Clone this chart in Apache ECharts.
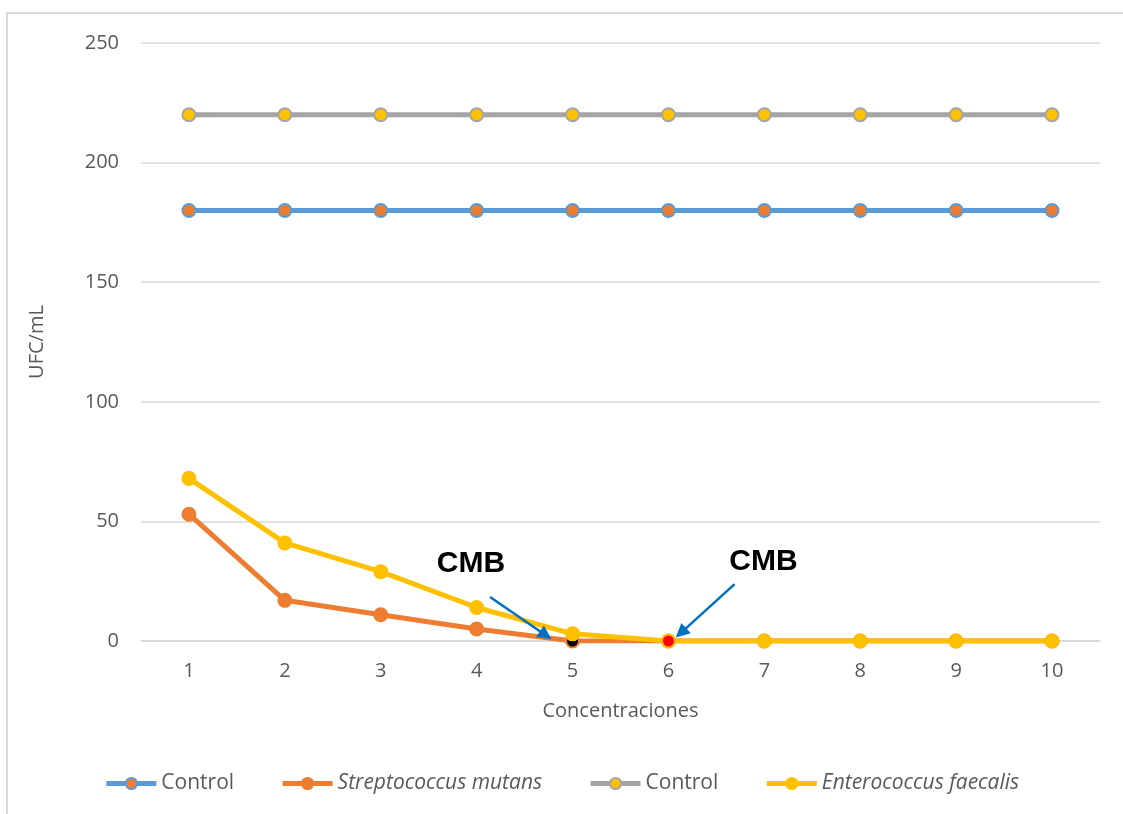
<!DOCTYPE html>
<html>
<head>
<meta charset="utf-8">
<script src="https://cdn.jsdelivr.net/npm/echarts@6/dist/echarts.min.js"></script>
<style>
  html, body { margin: 0; padding: 0; background: #fff; }
  #chart { width: 1123px; height: 814px; }
</style>
</head>
<body>
<div id="chart"></div>
<script>
// datos
const concentraciones = ['1', '2', '3', '4', '5', '6', '7', '8', '9', '10'];
const controlA = [180, 180, 180, 180, 180, 180, 180, 180, 180, 180];
const streptococcus = [53, 17, 11, 5, 0, 0, 0, 0, 0, 0];
const controlB = [220, 220, 220, 220, 220, 220, 220, 220, 220, 220];
const enterococcus = [68, 41, 29, 14, 3, 0, 0, 0, 0, 0];
const yTicks = [0, 50, 100, 150, 200, 250];
const legendNames = ['Control', 'Streptococcus mutans', 'Control', 'Enterococcus faecalis'];

// anotaciones CMB (posición en categoría, valor)
const cmbLabels = [[3.94, 32.2], [6.99, 33.0]];
const cmbArrows = [
    [[4.14, 18.4], [4.72, 2.4]],
    [[6.69, 23.8], [6.13, 3.4]]
];

const blue = '#5B9BD5';
const orange = '#ED7D31';
const gray = '#A5A5A5';
const yellow = '#FFC000';
const txt = '#595959';
const font = 'Open Sans';

const chart = echarts.init(document.getElementById('chart'));

function pts(values, special) {
    return values.map((v, i) => {
        if (special && special.index === i) {
            return {value: v, itemStyle: special.style};
        }
        return v;
    });
}

function lineSeries(key, values, lineColor, fill, border, special) {
    return {
        name: key,
        type: 'line',
        data: pts(values, special),
        symbol: 'circle',
        symbolSize: 13,
        lineStyle: {color: lineColor, width: 5},
        itemStyle: {color: fill, borderColor: border, borderWidth: 2},
        emphasis: {disabled: true},
        z: 3
    };
}

const keys = ['ctrlA', 'strep', 'ctrlB', 'entero'];

const option = {
    backgroundColor: '#fff',
    animation: false,
    graphic: [{
        type: 'rect',
        shape: {x: 7, y: 13, width: 1300, height: 1000},
        style: {fill: 'none', stroke: '#D9D9D9', lineWidth: 2},
        silent: true,
        z: -10
    }],
    grid: {left: 141, right: 23, top: 43, bottom: 173},
    legend: {
        bottom: 15,
        left: 'center',
        itemWidth: 50,
        itemHeight: 14,
        itemGap: 46,
        data: keys,
        lineStyle: {width: 5},
        formatter: function (name) {
            const i = keys.indexOf(name);
            return i === 1 || i === 3 ? '{it|' + legendNames[i] + '}' : legendNames[i];
        },
        textStyle: {
            color: txt, fontFamily: font, fontSize: 21,
            rich: {it: {fontStyle: 'italic', color: txt, fontFamily: font, fontSize: 21}}
        }
    },
    xAxis: [{
        type: 'category',
        data: concentraciones,
        boundaryGap: true,
        name: 'Concentraciones',
        nameLocation: 'middle',
        nameGap: 60,
        nameTextStyle: {color: txt, fontFamily: font, fontSize: 20},
        axisLine: {show: true, lineStyle: {color: '#D9D9D9', width: 1.5}},
        axisTick: {show: false},
        axisLabel: {color: txt, fontFamily: font, fontSize: 20, margin: 20},
        splitLine: {show: false}
    }, {
        type: 'value',
        min: 0.5,
        max: 10.5,
        show: false
    }],
    yAxis: {
        type: 'value',
        min: yTicks[0],
        max: yTicks[yTicks.length - 1],
        interval: 50,
        name: 'UFC/mL',
        nameLocation: 'middle',
        nameGap: 94,
        nameTextStyle: {color: txt, fontFamily: font, fontSize: 20},
        axisLine: {show: false},
        axisTick: {show: false},
        axisLabel: {color: txt, fontFamily: font, fontSize: 20, margin: 22},
        splitLine: {lineStyle: {color: '#D9D9D9', width: 1.5}}
    },
    series: [
        lineSeries('ctrlA', controlA, blue, orange, blue),
        lineSeries('strep', streptococcus, orange, orange, orange,
            {index: 4, style: {color: '#000000', borderColor: orange}}),
        lineSeries('ctrlB', controlB, gray, yellow, gray),
        lineSeries('entero', enterococcus, yellow, yellow, yellow,
            {index: 5, style: {color: '#FF0000', borderColor: yellow}}),
        {
            name: 'cmb',
            type: 'line',
            xAxisIndex: 1,
            data: [],
            silent: true,
            z: 5,
            markLine: {
                silent: true,
                symbol: ['none', 'triangle'],
                symbolSize: 14,
                label: {show: false},
                emphasis: {disabled: true},
                lineStyle: {color: '#0070C0', width: 2.5, type: 'solid'},
                data: cmbArrows.map(a => [{coord: a[0]}, {coord: a[1]}])
            },
            markPoint: {
                silent: true,
                symbol: 'circle',
                symbolSize: 1,
                itemStyle: {color: 'rgba(0,0,0,0)'},
                label: {
                    show: true,
                    formatter: 'CMB',
                    color: '#000',
                    fontFamily: 'Liberation Sans',
                    fontWeight: 'bold',
                    fontSize: 30
                },
                data: cmbLabels.map(c => ({coord: c}))
            }
        }
    ]
};

chart.setOption(option);
</script>
</body>
</html>
